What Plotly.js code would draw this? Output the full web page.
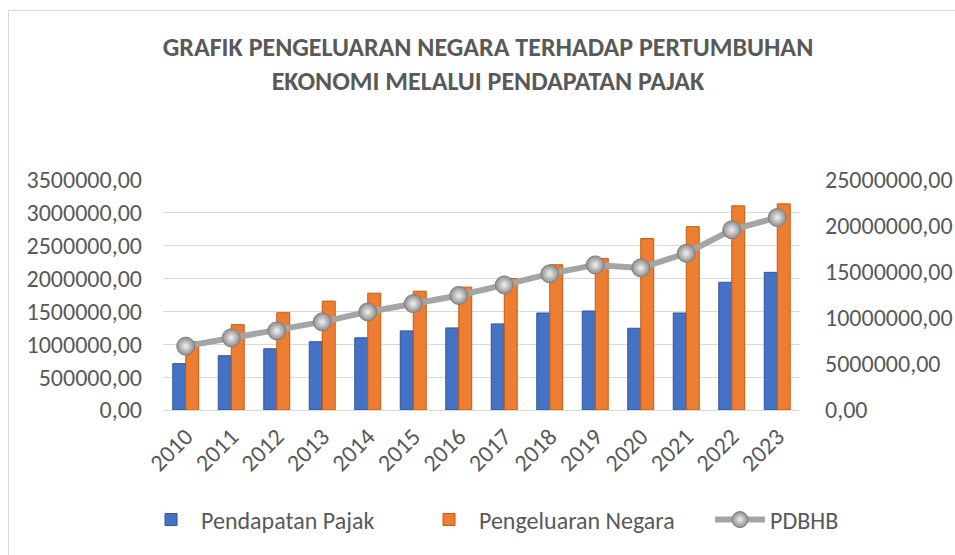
<!DOCTYPE html>
<html>
<head>
<meta charset="utf-8">
<script src="https://cdn.plot.ly/plotly-3.0.1.min.js"></script>
<style>
  html, body { margin: 0; padding: 0; background: #fff; }
  #wrap { position: relative; width: 955px; height: 555px; overflow: hidden; }
  #chart { position: absolute; left: 0; top: 0; width: 955px; height: 555px; }
  #frame { position: absolute; left: 8px; top: 10px; width: 960px; height: 560px;
           border-left: 1px solid #d9d9d9; border-top: 1px solid #d9d9d9; pointer-events: none; }
</style>
</head>
<body>
<div id="wrap">
  <div id="chart"></div>
  <div id="frame"></div>
</div>
<script>
const years = ["2010","2011","2012","2013","2014","2015","2016","2017","2018","2019","2020","2021","2022","2023"];
const pendapatanPajak = [705000, 826000, 932000, 1038000, 1098000, 1204000, 1249000, 1310000, 1476000, 1506000, 1244000, 1476000, 1944000, 2095000];
const pengeluaranNegara = [1040000, 1299000, 1480000, 1657000, 1778000, 1808000, 1869000, 2000000, 2210000, 2307000, 2609000, 2790000, 3107000, 3137000];
const pdbhb = [6940000, 7850000, 8600000, 9580000, 10660000, 11560000, 12450000, 13600000, 14800000, 15770000, 15440000, 17030000, 19580000, 20920000];
const leftTicks = [0, 500000, 1000000, 1500000, 2000000, 2500000, 3000000, 3500000];
const rightTicks = [0, 5000000, 10000000, 15000000, 20000000, 25000000];

const fontFam = "Carlito, Calibri, 'Open Sans', sans-serif";
const txt = '#595959';
const fs = 24;

const traces = [
  {
    type: 'bar', name: 'Pendapatan Pajak', x: years, y: pendapatanPajak,
    marker: { color: '#4472C4', line: { color: '#2F5597', width: 1 } },
    yaxis: 'y', legend: 'legend'
  },
  {
    type: 'bar', name: 'Pengeluaran Negara', x: years, y: pengeluaranNegara,
    marker: { color: '#ED7D31', line: { color: '#C55A11', width: 1 } },
    yaxis: 'y', legend: 'legend2'
  },
  {
    type: 'scatter', mode: 'lines+markers', name: 'PDBHB', x: years, y: pdbhb,
    yaxis: 'y2', legend: 'legend3',
    line: { color: '#A5A5A5', width: 6 },
    marker: { symbol: 'circle', size: 18, color: '#8c8c8c',
              gradient: { type: 'radial', color: '#f2f2f2' },
              line: { color: '#7f7f7f', width: 1 } }
  }
];

function legendAt(x) {
  return {
    orientation: 'h', x: x, xanchor: 'left', y: -0.478, yanchor: 'middle',
    font: { size: fs, color: txt, family: fontFam },
    itemwidth: 50, bgcolor: 'rgba(0,0,0,0)'
  };
}

const layout = {
  width: 955, height: 555,
  paper_bgcolor: '#ffffff', plot_bgcolor: '#ffffff',
  separators: ',.',
  margin: { l: 163, r: 155, t: 180, b: 143 },
  barmode: 'group', bargap: 0.43, bargroupgap: 0,
  showlegend: true,
  font: { family: fontFam, color: txt, size: fs },
  title: {
    text: '<b>GRAFIK PENGELUARAN NEGARA TERHADAP PERTUMBUHAN<br>EKONOMI MELALUI PENDAPATAN PAJAK</b>',
    font: { family: fontFam, size: 26, color: txt },
    x: 0.511, xanchor: 'center', xref: 'container',
    y: 0.899, yanchor: 'middle', yref: 'container'
  },
  xaxis: {
    type: 'category', range: [-0.5, 13.5], tickangle: -45, showgrid: false,
    showline: true, linecolor: '#d9d9d9', linewidth: 1,
    ticks: '', tickfont: { size: fs, color: txt, family: fontFam },
    ticklabelstandoff: 2
  },
  yaxis: {
    range: [0, 3500000], tickvals: leftTicks, tickformat: '.2f',
    showgrid: true, gridcolor: '#d9d9d9', gridwidth: 1, zeroline: false,
    ticks: '', tickfont: { size: fs, color: txt, family: fontFam },
    ticklabelstandoff: 20
  },
  yaxis2: {
    overlaying: 'y', side: 'right', range: [0, 25000000], tickvals: rightTicks, tickformat: '.2f',
    showgrid: false, zeroline: false,
    ticks: '', tickfont: { size: fs, color: txt, family: fontFam },
    ticklabelstandoff: 24
  },
  legend: legendAt(-0.0345),
  legend2: legendAt(0.4019),
  legend3: legendAt(0.8587)
};

Plotly.newPlot('chart', traces, layout, { displayModeBar: false, staticPlot: true });
</script>
</body>
</html>
